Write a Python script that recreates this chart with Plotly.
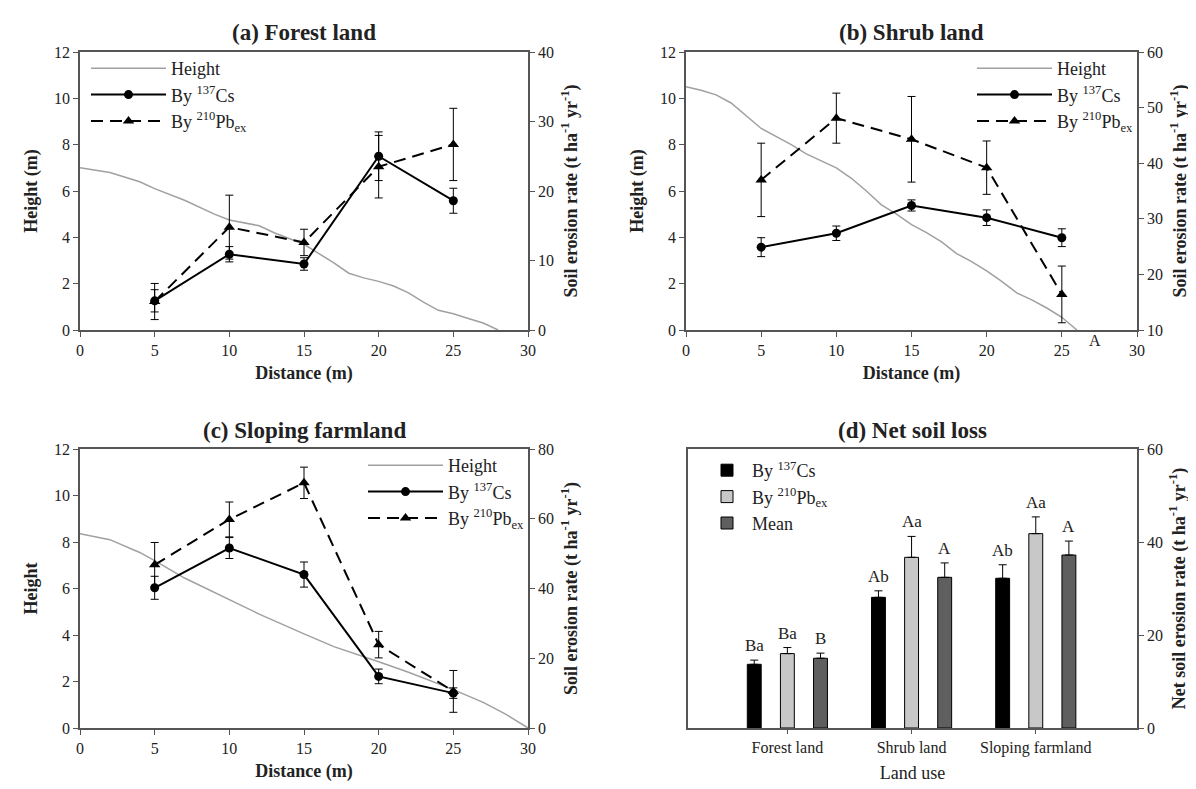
import plotly.graph_objects as go

W, H = 1196, 789
FONT = "Liberation Serif"
TXT = "#222222"
AX = "#555555"

# ---------------- data ----------------
dist_pts = [5, 10, 15, 20, 25]

# (a) Forest land
dist_a_h = [0, 2, 4, 5, 7, 9, 10, 12, 13, 15, 16, 17, 18, 19, 20, 21, 22, 23, 24, 25, 26, 27, 28]
height_a = [7.0, 6.8, 6.4, 6.1, 5.6, 5.0, 4.75, 4.5, 4.2, 3.7, 3.3, 2.9, 2.45, 2.25, 2.1, 1.9, 1.6, 1.2, 0.85, 0.7, 0.5, 0.3, 0.0]
a_cs = [4.2, 10.9, 9.5, 25.0, 18.6]
a_cs_err = [1.6, 1.1, 0.9, 3.5, 1.8]
a_pb = [4.1, 14.8, 12.6, 23.5, 26.7]
a_pb_err = [2.6, 4.6, 1.9, 4.5, 5.2]

# (b) Shrub land
dist_b_h = [0, 1, 2, 3, 5, 7, 8, 10, 11, 12, 13, 14, 15, 16, 17, 18, 19, 20, 21, 22, 23, 24, 25, 26]
height_b = [10.5, 10.35, 10.15, 9.8, 8.7, 8.0, 7.6, 7.0, 6.55, 6.0, 5.4, 5.0, 4.55, 4.2, 3.8, 3.3, 2.95, 2.55, 2.1, 1.6, 1.3, 0.95, 0.55, 0.0]
b_cs = [24.9, 27.4, 32.4, 30.2, 26.6]
b_cs_err = [1.7, 1.3, 1.0, 1.4, 1.6]
b_pb = [37.0, 48.1, 44.3, 39.2, 16.4]
b_pb_err = [6.6, 4.5, 7.7, 4.8, 5.1]

# (c) Sloping farmland
dist_c_h = [0, 2, 4, 5, 7, 10, 12, 15, 17, 20, 22, 25, 27, 28.5, 30]
height_c = [8.35, 8.1, 7.55, 7.2, 6.45, 5.5, 4.9, 4.05, 3.5, 2.85, 2.4, 1.65, 1.1, 0.6, 0.0]
c_cs = [40.2, 51.6, 44.0, 14.8, 10.0]
c_cs_err = [3.3, 3.0, 3.6, 2.1, 1.5]
c_pb = [46.8, 59.8, 70.3, 23.9, 10.5]
c_pb_err = [6.4, 5.0, 4.5, 3.8, 6.0]

# (d) Net soil loss
land_use = ["Forest land", "Shrub land", "Sloping farmland"]
net_cs = [13.7, 28.1, 32.2]
net_cs_err = [0.9, 1.4, 2.9]
net_pb = [16.0, 36.7, 41.8]
net_pb_err = [1.3, 4.5, 3.6]
net_mean = [15.0, 32.4, 37.2]
net_mean_err = [1.1, 3.1, 3.0]
letters_cs = ["Ba", "Ab", "Ab"]
letters_pb = ["Ba", "Aa", "Aa"]
letters_mean = ["B", "A", "A"]

titles = ["(a) Forest land", "(b) Shrub land", "(c) Sloping farmland", "(d) Net soil loss"]
lbl_h = "Height"
lbl_cs = "By <sup>137</sup>Cs"
lbl_pb = "By <sup>210</sup>Pb<sub>ex</sub>"
lbl_mean = "Mean"
stray_label = "A"
stray_label_x = 27.2

# ---------------- helpers ----------------
def px_x(p):
    return p / W

def px_y(p):
    return 1 - p / H

dom_a_x = [px_x(72), px_x(520)]
dom_b_x = [px_x(678), px_x(1129)]
dom_top_y = [px_y(322), px_y(44)]
dom_c_x = [px_x(72), px_x(520)]
dom_d_x = [px_x(680), px_x(1129)]
dom_bot_y = [px_y(720), px_y(441)]

fig = go.Figure()

err_style = dict(type="data", color="black", thickness=1, width=4)


def add_profile(xh, yh, ya, yb, cs, cse, pb, pbe, xa, legend):
    fig.add_trace(go.Scatter(x=xh, y=yh, mode="lines", name=lbl_h,
                             line=dict(color="#a0a0a0", width=1.5),
                             xaxis=xa, yaxis=ya, legend=legend))
    fig.add_trace(go.Scatter(x=dist_pts, y=cs, mode="lines+markers", name=lbl_cs,
                             line=dict(color="black", width=2),
                             marker=dict(symbol="circle", size=9, color="black"),
                             error_y=dict(array=cse, **err_style),
                             xaxis=xa, yaxis=yb, legend=legend))
    fig.add_trace(go.Scatter(x=dist_pts, y=pb, mode="lines+markers", name=lbl_pb,
                             line=dict(color="black", width=2, dash="12px,7px"),
                             marker=dict(symbol="triangle-up", size=10, color="black"),
                             error_y=dict(array=pbe, **err_style),
                             xaxis=xa, yaxis=yb, legend=legend))


add_profile(dist_a_h, height_a, "y", "y2", a_cs, a_cs_err, a_pb, a_pb_err, "x", "legend")
add_profile(dist_b_h, height_b, "y3", "y4", b_cs, b_cs_err, b_pb, b_pb_err, "x2", "legend2")
add_profile(dist_c_h, height_c, "y5", "y6", c_cs, c_cs_err, c_pb, c_pb_err, "x3", "legend3")

bar_specs = [
    (lbl_cs, net_cs, net_cs_err, "#000000"),
    (lbl_pb, net_pb, net_pb_err, "#c8c8c8"),
    (lbl_mean, net_mean, net_mean_err, "#5f5f5f"),
]
for name, vals, errs, col in bar_specs:
    fig.add_trace(go.Bar(x=land_use, y=vals, name=name,
                         marker=dict(color=col, line=dict(color="black", width=1)),
                         error_y=dict(type="data", symmetric=False, array=errs,
                                      arrayminus=[0] * len(errs), color="black",
                                      thickness=1, width=4),
                         xaxis="x4", yaxis="y7", legend="legend4"))

# letters above bars
annotations = []
slot = (1 - 0.2) / 3
for k, (vals, errs, labs) in enumerate([(net_cs, net_cs_err, letters_cs),
                                         (net_pb, net_pb_err, letters_pb),
                                         (net_mean, net_mean_err, letters_mean)]):
    for i in range(len(land_use)):
        annotations.append(dict(x=i + (k - 1) * slot, y=vals[i] + errs[i], xref="x4", yref="y7",
                                text=labs[i], showarrow=False, yanchor="bottom", yshift=3,
                                font=dict(family=FONT, size=17, color=TXT)))

# panel titles
title_pos = [((72 + 520) / 2, 24), ((678 + 1129) / 2, 24), ((72 + 520) / 2, 422), ((680 + 1129) / 2, 422)]
for t, (tx, ty) in zip(titles, title_pos):
    annotations.append(dict(x=px_x(tx), y=px_y(ty), xref="paper", yref="paper", text="<b>%s</b>" % t,
                            showarrow=False, xanchor="center", yanchor="middle",
                            font=dict(family=FONT, size=23, color=TXT)))

# stray 'A' label in panel (b), just below the x axis
annotations.append(dict(x=stray_label_x, y=px_y(333), xref="x2", yref="paper", text=stray_label,
                        showarrow=False, yanchor="middle",
                        font=dict(family=FONT, size=16, color=TXT)))

tickfont = dict(family=FONT, size=16, color=TXT)
titlefont = dict(family=FONT, size=18, color=TXT)


def xax(domain, anchor, title):
    return dict(domain=domain, anchor=anchor, range=[0, 30], dtick=5, showline=True, linecolor=AX,
                linewidth=1.5, mirror=True, ticks="outside", ticklen=5, tickcolor=AX, showgrid=False,
                zeroline=False, tickfont=tickfont, automargin=False,
                title=dict(text="<b>%s</b>" % title, font=titlefont, standoff=8))


def yleft(domain, anchor, title):
    return dict(domain=domain, anchor=anchor, range=[0, 12], dtick=2, showline=True, linecolor=AX,
                linewidth=1.5, ticks="outside", ticklen=5, tickcolor=AX, showgrid=False, zeroline=False,
                tickfont=tickfont, automargin=False,
                title=dict(text="<b>%s</b>" % title, font=titlefont, standoff=12))


def yright(overlay, anchor, rng, dtick, title):
    return dict(overlaying=overlay, anchor=anchor, side="right", range=rng, dtick=dtick, showline=True,
                linecolor=AX, linewidth=1.5, ticks="outside", ticklen=5, tickcolor=AX, showgrid=False,
                zeroline=False, tickfont=tickfont, automargin=False,
                title=dict(text="<b>%s</b>" % title, font=titlefont, standoff=11))


ser_title = "Soil erosion rate (t ha<sup>-1</sup> yr<sup>-1</sup>)"

legend_common = dict(bgcolor="rgba(0,0,0,0)", font=dict(family=FONT, size=18, color=TXT),
                     itemwidth=75, tracegroupgap=0)
legend_bar = dict(bgcolor="rgba(0,0,0,0)", font=dict(family=FONT, size=18, color=TXT),
                  itemwidth=40, tracegroupgap=0)

fig.update_layout(
    width=W, height=H, margin=dict(l=0, r=0, t=0, b=0),
    paper_bgcolor="white", plot_bgcolor="white",
    barmode="group", bargap=0.2, bargroupgap=0.58,
    xaxis=xax(dom_a_x, "y", "Distance (m)"),
    yaxis=yleft(dom_top_y, "x", "Height (m)"),
    yaxis2=yright("y", "x", [0, 40], 10, ser_title),
    xaxis2=xax(dom_b_x, "y3", "Distance (m)"),
    yaxis3=yleft(dom_top_y, "x2", "Height (m)"),
    yaxis4=yright("y3", "x2", [10, 60], 10, ser_title),
    xaxis3=xax(dom_c_x, "y5", "Distance (m)"),
    yaxis5=yleft(dom_bot_y, "x3", "Height"),
    yaxis6=yright("y5", "x3", [0, 80], 20, ser_title),
    xaxis4=dict(domain=dom_d_x, anchor="y7", type="category", range=[-0.8, 2.815], showline=True,
                linecolor=AX, linewidth=1.5, mirror=True, ticks="outside", ticklen=4, tickcolor=AX,
                showgrid=False, tickfont=tickfont, automargin=False,
                title=dict(text="Land use", font=dict(family=FONT, size=18, color=TXT), standoff=10)),
    yaxis7=dict(domain=dom_bot_y, anchor="x4", side="right", range=[0, 60], dtick=20, showline=True,
                linecolor=AX, linewidth=1.5, mirror=True, ticks="outside", ticklen=5, tickcolor=AX,
                showgrid=False, zeroline=False, tickfont=tickfont, automargin=False,
                title=dict(text="<b>Net soil erosion rate (t ha<sup>-1</sup> yr<sup>-1</sup>)</b>",
                           font=titlefont, standoff=10)),
    legend=dict(x=px_x(78), y=px_y(42), xanchor="left", yanchor="top", **legend_common),
    legend2=dict(x=px_x(1131), y=px_y(42), xanchor="right", yanchor="top", **legend_common),
    legend3=dict(x=px_x(522), y=px_y(439), xanchor="right", yanchor="top", **legend_common),
    legend4=dict(x=px_x(694), y=px_y(444), xanchor="left", yanchor="top", **legend_bar),
    annotations=annotations,
)

fig.write_html("out.html")
